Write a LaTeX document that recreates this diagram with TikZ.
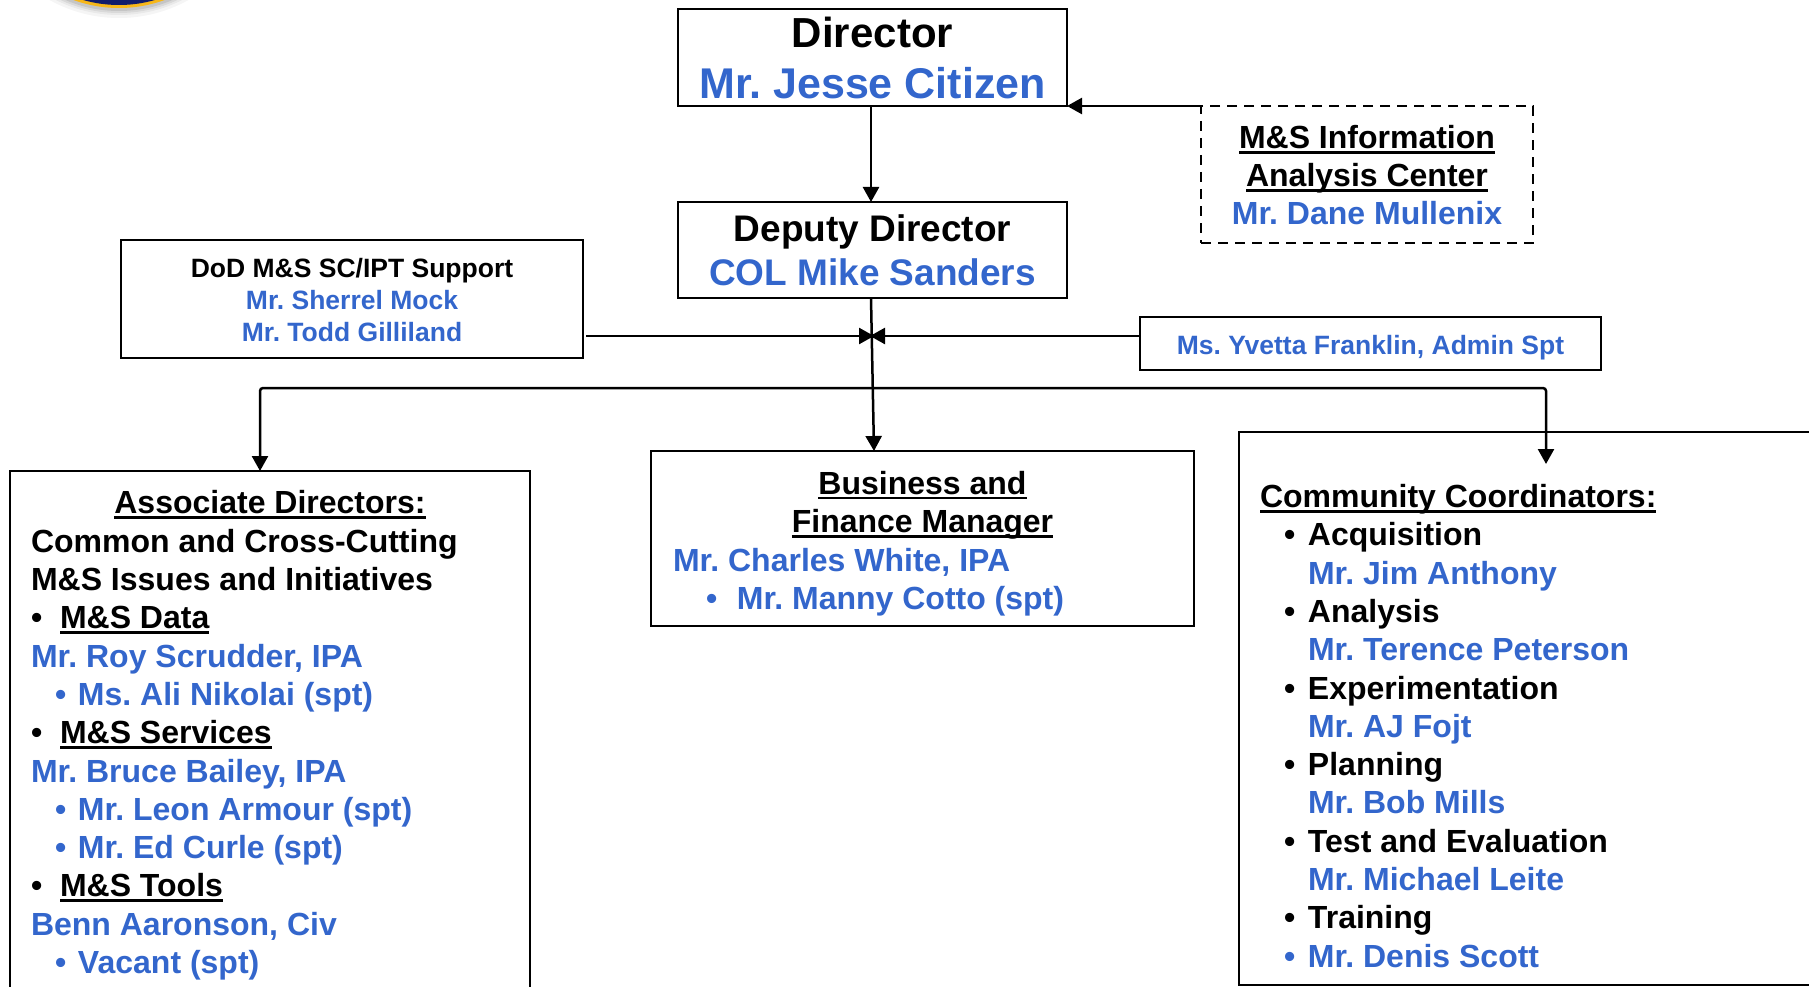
\documentclass[tikz,border=0pt]{standalone}
\usepackage{fontspec}
\usetikzlibrary{arrows.meta}
\setmainfont{Liberation Sans}
\frenchspacing
\definecolor{nameblue}{HTML}{3366CC}
\definecolor{sealnavy}{HTML}{101C6B}
\definecolor{sealgold}{HTML}{F7B718}
\newsavebox{\ulbox}
\newcommand{\uline}[1]{\sbox{\ulbox}{#1}\makebox[0pt][l]{\rule[-5pt]{\wd\ulbox}{2.6pt}}\usebox{\ulbox}}
\newcommand{\who}[1]{\textcolor{nameblue}{#1}}
\newcommand{\blt}[2]{\makebox[#1][l]{#2\textbullet}}
\tikzset{
    >={Triangle[length=15pt,width=16pt]},
    orgbox/.style={draw, line width=2.8pt, inner sep=0pt, outer sep=0pt, align=flush center},
    listbox/.style={orgbox, align=flush left, font=\bfseries\fontsize{32}{38.3}\selectfont},
    orgline/.style={line width=2.5pt},
}

\begin{document}
\begin{tikzpicture}[x=1pt, y=-1pt]
    \clip (0,0) rectangle (1809,987);

    % seal, cut off by the page
    \foreach \r/\o in {143/0.04, 140/0.05, 138/0.07, 136/0.09}
        \fill[black, opacity=\o] (119,-125) circle (\r);
    \fill[sealgold] (119,-125) circle (133);
    \fill[sealnavy] (119,-125) circle (130);

    \node[orgbox, minimum width=389, minimum height=97, font=\bfseries\fontsize{42}{51}\selectfont] (director) at (872.5,57.5)
        {\rule{0pt}{32pt}Director\\{\fontsize{43}{51}\selectfont\who{Mr. Jesse Citizen}}};
    \node[orgbox, minimum width=389, minimum height=96, font=\bfseries\fontsize{37}{44}\selectfont] (deputy) at (872.5,250)
        {Deputy Director\\\who{COL Mike Sanders}};
    \node[orgbox, dash pattern=on 10pt off 7pt, minimum width=332, minimum height=137, font=\bfseries\fontsize{32}{38}\selectfont] (info) at (1367,174.5)
        {\rule{0pt}{25pt}\uline{M\&S Information}\\\uline{Analysis Center}\\\who{Mr. Dane Mullenix}};
    \node[orgbox, minimum width=462, minimum height=118, font=\bfseries\fontsize{26.5}{32}\selectfont] (support) at (352,299)
        {\rule{0pt}{22pt}DoD M\&S SC/IPT Support\\\who{Mr. Sherrel Mock}\\\who{Mr. Todd Gilliland}};
    \node[orgbox, minimum width=461, minimum height=53, font=\bfseries\fontsize{26.5}{32}\selectfont] (admin) at (1370.5,343.5)
        {\rule{0pt}{28.3pt}\who{Ms. Yvetta Franklin, Admin Spt}};
    \node[listbox, minimum width=543, minimum height=175, text width=499] (finance) at (922.5,538.5)
        {\rule{0pt}{33.5pt}\makebox[499pt]{\uline{Business and}}\\
        \makebox[499pt]{\uline{Finance Manager}}\\
        \who{Mr. Charles White, IPA}\\
        \who{\hspace*{33pt}\blt{31pt}{}Mr. Manny Cotto (spt)}};
    \node[listbox, minimum width=520, minimum height=529, text width=478] (assoc) at (270,735.5)
        {\makebox[478pt]{\uline{Associate Directors:}}\\
        Common and Cross-Cutting\\
        M\&S Issues and Initiatives\\
        \blt{29pt}{}\uline{M\&S Data}\\
        \who{Mr. Roy Scrudder, IPA}\\
        \who{\hspace*{24pt}\blt{23pt}{}Ms. Ali Nikolai (spt)}\\
        \blt{29pt}{}\uline{M\&S Services}\\
        \who{Mr. Bruce Bailey, IPA}\\
        \who{\hspace*{24pt}\blt{23pt}{}Mr. Leon Armour (spt)}\\
        \who{\hspace*{24pt}\blt{23pt}{}Mr. Ed Curle (spt)}\\
        \blt{29pt}{}\uline{M\&S Tools}\\
        \who{Benn Aaronson, Civ}\\
        \who{\hspace*{24pt}\blt{23pt}{}Vacant (spt)}};
    \node[listbox, minimum width=600, minimum height=553, text width=558] (comm) at (1539,708.5)
        {\rule{0pt}{58pt}\uline{Community Coordinators:}\\
        \hspace*{24pt}\blt{24pt}{}Acquisition\\
        \hspace*{48pt}\who{Mr. Jim Anthony}\\
        \hspace*{24pt}\blt{24pt}{}Analysis\\
        \hspace*{48pt}\who{Mr. Terence Peterson}\\
        \hspace*{24pt}\blt{24pt}{}Experimentation\\
        \hspace*{48pt}\who{Mr. AJ Fojt}\\
        \hspace*{24pt}\blt{24pt}{}Planning\\
        \hspace*{48pt}\who{Mr. Bob Mills}\\
        \hspace*{24pt}\blt{24pt}{}Test and Evaluation\\
        \hspace*{48pt}\who{Mr. Michael Leite}\\
        \hspace*{24pt}\blt{24pt}{}Training\\
        \who{\hspace*{24pt}\blt{24pt}{}Mr. Denis Scott}};

    \coordinate (hubleft)  at (874,336);
    \coordinate (hubright) at (870,336);
    \coordinate (supout)   at (586,336);
    \coordinate (admout)   at (1140,336);
    \coordinate (dirleft)  at (260,388);
    \coordinate (dirright) at (1546,388);
    \coordinate (associn)  at (260,471);
    \coordinate (commin)   at (1546,464);
    \coordinate (depout)   at (871,298);
    \coordinate (finin)    at (874,451);

    \path[orgline]
        ([xshift=-1.5pt]director.south) edge [->] ([xshift=-1.5pt]deputy.north)
        (info.north west) edge [->] (director.south east)
        (supout) edge [->] (hubleft)
        (admout) edge [->] (hubright)
        (depout) edge [->] (finin)
        ;
    \draw[orgline, <->, rounded corners=3pt] (associn) -- (dirleft) -- (dirright) -- (commin);
\end{tikzpicture}
\end{document}
